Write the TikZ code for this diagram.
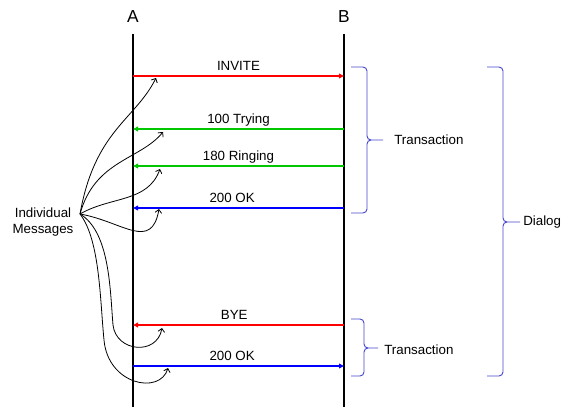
\documentclass[tikz,border=0pt]{standalone}
\usepackage{fontspec}
\setmainfont{Liberation Sans}
\usepackage{tikz}
\usetikzlibrary{arrows.meta}
\definecolor{msgred}{rgb}{1,0,0}
\definecolor{msggreen}{rgb}{0,0.78,0}
\definecolor{msgblue}{rgb}{0,0,1}
\definecolor{bracecol}{rgb}{0.28,0.28,0.8}

\begin{document}
\begin{tikzpicture}[
    x=0.75pt, y=0.75pt,
    party/.style={font=\fontsize{13}{15}\selectfont, inner sep=0pt},
    life/.style={line width=1.5pt},
    msg/.style={line width=1.5pt, -{Triangle[length=3.75pt, width=3.5pt]}},
    lbl/.style={
        font=\fontsize{10}{12}\selectfont, text=black, above,
        inner xsep=0pt, inner ysep=3.5pt, text depth=0pt
    },
    hint/.style={line width=0.6pt, -{Straight Barb[length=2.5pt, width=5pt]}},
    brc/.style={draw=bracecol, line width=0.7pt, rounded corners=3pt},
    note/.style={font=\fontsize{10}{11.5}\selectfont, align=center, inner sep=0pt}
]
\useasboundingbox (0,0) rectangle (578,-417);

% --- Parties et lignes de vie ---
\node[party] (A) at (133,-17) {A};
\node[party] (B) at (344,-17) {B};
\coordinate (Atop) at (133,-34);
\coordinate (Abot) at (133,-407);
\coordinate (Btop) at (344,-34);
\coordinate (Bbot) at (344,-407);
\draw[life] (Atop) -- (Abot);
\draw[life] (Btop) -- (Bbot);

% --- Messages ---
\foreach \n/\y in {1/76, 2/129, 3/166, 4/208, 5/325, 6/366} {
    \coordinate (a\n) at (133,-\y);
    \coordinate (b\n) at (344,-\y);
}
\draw[msg, msgred]   (a1) -- node[lbl] {INVITE} (b1);
\draw[msg, msggreen] (b2) -- node[lbl] {100 Trying} (a2);
\draw[msg, msggreen] (b3) -- node[lbl] {180 Ringing} (a3);
\draw[msg, msgblue]  (b4) -- node[lbl, pos=0.53] {200 OK} (a4);
\draw[msg, msgred]   (b5) -- node[lbl, pos=0.52] {BYE} (a5);
\draw[msg, msgblue]  (a6) -- node[lbl, pos=0.47] {200 OK} (b6);

% --- Individual Messages ---
\node[note] (ind) at (43,-222) {Individual\\Messages};
\coordinate (src) at (80,-214);
\coordinate (t1) at (156,-78);
\coordinate (t2) at (163,-132);
\coordinate (t3) at (160,-169);
\coordinate (t4) at (159,-209);
\coordinate (t5) at (162,-328);
\coordinate (t6) at (168,-368);
\draw[hint] (src) .. controls (95,-130) and (135,-120) .. (t1);
\draw[hint] (src) .. controls (95,-160) and (140,-160) .. (t2);
\draw[hint] (src) to[out=30, in=-110] (t3);
\draw[hint] (src) to[out=-10, in=-100, looseness=1.4] (t4);
\draw[hint] (src) .. controls (110,-232) and (110,-290) .. (113,-325)
    .. controls (116,-352) and (157,-356) .. (t5);
\draw[hint] (src) .. controls (100,-240) and (100,-300) .. (104,-340)
    .. controls (108,-385) and (160,-395) .. (t6);

% --- Accolades ---
\draw[brc] (351,-67) -| (367,-140) -- (383,-140)
           (351,-213) -| (367,-140) -- (383,-140);
\node[note, anchor=west] (tr1) at (394,-140) {Transaction};

\draw[brc] (351,-319) -| (364,-348) -- (378,-348)
           (351,-376) -| (364,-348) -- (378,-348);
\node[note, anchor=west] (tr2) at (384,-350) {Transaction};

\draw[brc] (487,-67) -| (503,-222) -- (520,-222)
           (487,-376) -| (503,-222) -- (520,-222);
\node[note, anchor=west] (dlg) at (523,-222) {Dialog};

\end{tikzpicture}
\end{document}
